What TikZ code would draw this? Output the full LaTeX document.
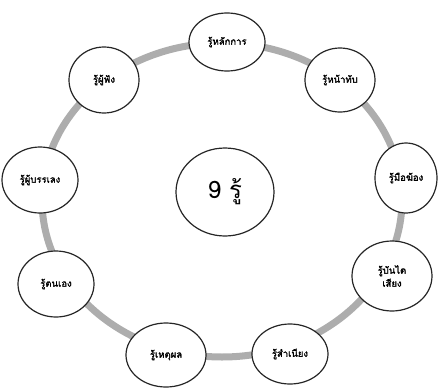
\documentclass[tikz,border=0pt]{standalone}
\usepackage{fontspec}
\newfontfamily\thaifont[Script=Thai]{Loma}
\newfontfamily\thaibold[Script=Thai,FakeBold=1.8]{Loma}
\usetikzlibrary{shapes.geometric}
\begin{document}
\begin{tikzpicture}[x=1pt,y=-1pt,
  item/.style={ellipse,draw=black!85,line width=1.2pt,fill=white,inner sep=0pt,
     font=\thaibold\fontsize{9.5}{13}\selectfont,align=center}]
\useasboundingbox (0,0) rectangle (445,389);
\coordinate (c) at (222,200);
\draw[line width=7pt,black!32] (c) ellipse [x radius=180, y radius=157];
\node[item,minimum width=76,minimum height=58] (n1) at (227,42) {รู้หลักการ};
\node[item,minimum width=70,minimum height=64] (n2) at (340,80) {รู้หน้าทับ};
\node[item,minimum width=62,minimum height=70] (n3) at (406,178) {รู้มือฆ้อง};
\node[item,minimum width=80,minimum height=70] (n4) at (392,276) {รู้บันได\\เสียง};
\node[item,minimum width=76,minimum height=60] (n5) at (290,354) {รู้สำเนียง};
\node[item,minimum width=80,minimum height=64] (n6) at (166,355) {รู้เหตุผล};
\node[item,minimum width=76,minimum height=66] (n7) at (56,284) {รู้ตนเอง};
\node[item,minimum width=76,minimum height=66] (n8) at (40,180) {รู้ผู้บรรเลง};
\node[item,minimum width=70,minimum height=66] (n9) at (104,80) {รู้ผู้ฟัง};
\node[ellipse,draw=black!85,line width=1.2pt,fill=white,minimum width=98,minimum height=88,
  font=\thaifont\fontsize{24}{28}\selectfont] (ctr) at (225,192) {9 รู้};
\end{tikzpicture}
\end{document}
